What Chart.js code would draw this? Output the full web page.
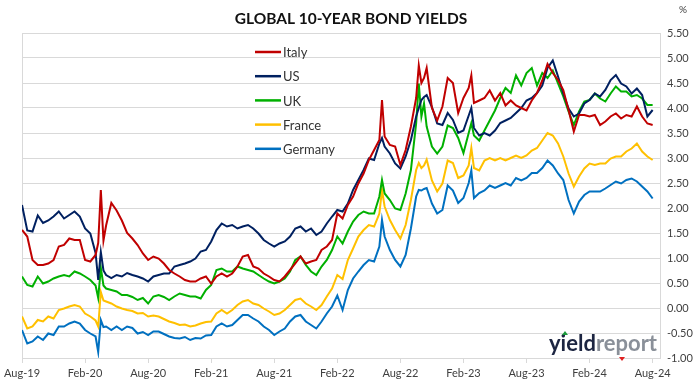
<!DOCTYPE html>
<html>
<head>
<meta charset="utf-8">
<script src="https://cdn.jsdelivr.net/npm/chart.js@4.4.1/dist/chart.umd.min.js"></script>
<style>
  html, body { margin: 0; padding: 0; background: #fff; }
  #wrap { width: 699px; height: 385px; }
</style>
</head>
<body>
<div id="wrap"><canvas id="yieldChart" width="699" height="385"></canvas></div>
<script>
// months since Aug-19, half-month steps plus a few extra points at the spikes
var months = [
  0, 0.5, 1, 1.5, 2, 2.5, 3, 3.5, 4, 4.5,
  5, 5.5, 6, 6.5, 7, 7.25, 7.5, 7.75, 8, 8.5,
  9, 9.5, 10, 10.5, 11, 11.5, 12, 12.5, 13, 13.5,
  14, 14.5, 15, 15.5, 16, 16.5, 17, 17.5, 18, 18.5,
  19, 19.5, 20, 20.5, 21, 21.5, 22, 22.5, 23, 23.5,
  24, 24.5, 25, 25.5, 26, 26.5, 27, 27.5, 28, 28.5,
  29, 29.5, 30, 30.5, 31, 31.5, 32, 32.5, 33, 33.5,
  34, 34.25, 34.5, 35, 35.5, 36, 36.5, 37, 37.5, 37.75,
  38, 38.25, 38.5, 39, 39.5, 40, 40.5, 41, 41.5, 42,
  42.5, 42.75, 43, 43.5, 44, 44.5, 45, 45.5, 46, 46.5,
  47, 47.5, 48, 48.5, 49, 49.5, 50, 50.5, 51, 51.5,
  52, 52.5, 53, 53.5, 54, 54.5, 55, 55.5, 56, 56.5,
  57, 57.5, 58, 58.5, 59, 59.5, 60
];

var italy = [
  1.56, 1.43, 0.96, 0.86, 0.86, 0.89, 0.96, 1.23, 1.26, 1.39,
  1.36, 1.36, 0.96, 0.93, 1.06, 1.30, 2.36, 1.35, 1.65, 2.10,
  1.95, 1.75, 1.50, 1.39, 1.26, 1.09, 0.96, 1.03, 0.99, 0.89,
  0.76, 0.69, 0.63, 0.56, 0.53, 0.53, 0.59, 0.63, 0.49, 0.63,
  0.69, 0.63, 0.69, 0.83, 1.03, 1.06, 0.83, 0.79, 0.69, 0.63,
  0.56, 0.53, 0.63, 0.76, 0.89, 1.03, 0.89, 0.93, 0.96, 1.16,
  1.23, 1.36, 1.89, 1.79, 2.06, 2.23, 2.49, 2.69, 2.96, 3.16,
  3.36, 4.16, 3.43, 3.26, 3.23, 2.86, 3.16, 3.63, 4.20, 4.85,
  4.50, 4.60, 4.80, 4.00, 3.75, 4.03, 4.60, 4.50, 3.90, 4.20,
  4.40, 4.65, 4.10, 4.15, 4.20, 4.35, 4.15, 4.30, 4.05, 4.15,
  4.05, 4.00, 3.95, 4.15, 4.30, 4.55, 4.88, 4.70, 4.56, 4.36,
  3.96, 3.53, 3.86, 3.86, 3.83, 3.86, 3.66, 3.73, 3.83, 3.89,
  3.79, 3.86, 3.83, 4.03, 3.83, 3.69, 3.66
];

var us = [
  2.06, 1.55, 1.53, 1.85, 1.70, 1.75, 1.83, 1.93, 1.79, 1.86,
  1.93, 1.83, 1.59, 1.49, 1.10, 0.56, 1.12, 0.75, 0.66, 0.60,
  0.66, 0.63, 0.70, 0.66, 0.63, 0.59, 0.53, 0.63, 0.66, 0.69,
  0.69, 0.83, 0.86, 0.89, 0.93, 0.99, 1.13, 1.16, 1.33, 1.56,
  1.69, 1.63, 1.66, 1.59, 1.63, 1.66, 1.59, 1.49, 1.36, 1.29,
  1.23, 1.29, 1.33, 1.43, 1.59, 1.63, 1.53, 1.59, 1.46, 1.53,
  1.69, 1.83, 1.96, 1.93, 2.09, 2.36, 2.56, 2.76, 2.99, 2.96,
  3.29, 3.40, 3.23, 3.09, 2.89, 2.79, 3.03, 3.36, 3.83, 4.00,
  4.16, 4.22, 4.26, 4.02, 3.69, 3.66, 3.90, 3.76, 3.50, 3.55,
  3.85, 4.00, 3.60, 3.45, 3.50, 3.45, 3.55, 3.70, 3.75, 3.80,
  3.90, 4.00, 4.15, 4.20, 4.30, 4.45, 4.80, 4.95, 4.63, 4.29,
  3.99, 3.83, 3.89, 4.09, 4.16, 4.29, 4.23, 4.36, 4.56, 4.66,
  4.49, 4.43, 4.29, 4.39, 4.26, 3.83, 3.96
];

var uk = [
  0.63, 0.46, 0.43, 0.63, 0.49, 0.53, 0.59, 0.63, 0.66, 0.63,
  0.73, 0.69, 0.63, 0.56, 0.45, 0.20, 0.80, 0.45, 0.39, 0.36,
  0.33, 0.26, 0.26, 0.22, 0.16, 0.20, 0.09, 0.23, 0.26, 0.22,
  0.16, 0.23, 0.29, 0.26, 0.23, 0.23, 0.19, 0.36, 0.46, 0.76,
  0.79, 0.73, 0.73, 0.83, 0.79, 0.76, 0.73, 0.66, 0.59, 0.53,
  0.49, 0.53, 0.59, 0.73, 0.96, 1.03, 0.86, 0.73, 0.66, 0.83,
  0.96, 1.16, 1.43, 1.29, 1.53, 1.73, 1.86, 1.93, 1.89, 1.89,
  2.23, 2.56, 2.29, 2.16, 1.99, 1.96, 2.29, 2.76, 3.69, 4.49,
  3.83, 4.09, 3.63, 3.23, 3.09, 3.23, 3.65, 3.60, 3.40, 3.10,
  3.50, 3.70, 3.45, 3.35, 3.55, 3.75, 3.95, 4.20, 4.40, 4.30,
  4.65, 4.45, 4.70, 4.80, 4.45, 4.70, 4.60, 4.75, 4.49, 4.23,
  3.93, 3.66, 3.93, 4.13, 4.16, 4.29, 4.19, 4.13, 4.29, 4.43,
  4.33, 4.33, 4.23, 4.26, 4.19, 4.06, 4.06
];

var france = [
  -0.17, -0.41, -0.37, -0.24, -0.27, -0.17, -0.21, -0.04, -0.01, 0.03,
  0.06, 0.03, -0.11, -0.17, -0.25, -0.37, 0.32, 0.15, 0.13, 0.09,
  0.03, -0.01, -0.04, -0.06, -0.11, -0.10, -0.17, -0.15, -0.17, -0.22,
  -0.27, -0.30, -0.34, -0.33, -0.37, -0.35, -0.31, -0.28, -0.27, -0.11,
  -0.04, -0.11, -0.04, 0.06, 0.13, 0.16, 0.09, 0.06, -0.01, -0.07,
  -0.14, -0.11, -0.04, 0.06, 0.16, 0.19, 0.09, 0.03, -0.04, 0.06,
  0.23, 0.39, 0.66, 0.58, 0.96, 1.19, 1.43, 1.56, 1.66, 1.63,
  1.89, 2.36, 2.03, 1.76, 1.56, 1.39, 1.66, 2.16, 2.76, 2.90,
  2.80, 2.85, 2.97, 2.55, 2.33, 2.49, 2.95, 2.90, 2.60, 2.65,
  2.85, 3.20, 2.80, 2.75, 2.95, 3.00, 2.95, 3.00, 2.95, 3.00,
  3.05, 3.00, 3.05, 3.15, 3.20, 3.35, 3.50, 3.45, 3.29, 3.03,
  2.69, 2.43, 2.63, 2.79, 2.89, 2.86, 2.89, 2.89, 2.99, 3.03,
  3.03, 3.13, 3.19, 3.29, 3.13, 3.03, 2.96
];

var germany = [
  -0.44, -0.71, -0.67, -0.57, -0.64, -0.51, -0.54, -0.37, -0.37, -0.31,
  -0.27, -0.31, -0.44, -0.51, -0.57, -0.88, -0.24, -0.38, -0.37, -0.44,
  -0.37, -0.44, -0.37, -0.40, -0.51, -0.48, -0.54, -0.47, -0.47, -0.52,
  -0.57, -0.60, -0.61, -0.58, -0.64, -0.60, -0.61, -0.55, -0.54, -0.37,
  -0.31, -0.37, -0.34, -0.24, -0.14, -0.14, -0.21, -0.27, -0.37, -0.44,
  -0.54, -0.47, -0.41, -0.27, -0.17, -0.14, -0.27, -0.34, -0.41, -0.27,
  -0.11, 0.03, 0.25, -0.04, 0.36, 0.59, 0.73, 0.86, 0.96, 0.93,
  1.23, 1.76, 1.43, 1.16, 0.96, 0.83, 1.06, 1.59, 2.23, 2.36,
  2.35, 2.38, 2.40, 2.09, 1.89, 1.96, 2.45, 2.35, 2.10, 2.20,
  2.50, 2.75, 2.20, 2.30, 2.35, 2.45, 2.40, 2.45, 2.50, 2.45,
  2.60, 2.55, 2.60, 2.70, 2.70, 2.80, 2.95, 2.85, 2.69, 2.56,
  2.16, 1.89, 2.13, 2.26, 2.33, 2.33, 2.33, 2.39, 2.46, 2.53,
  2.49, 2.56, 2.59, 2.53, 2.43, 2.33, 2.19
];

var xLabels = ["Aug-19", "Feb-20", "Aug-20", "Feb-21", "Aug-21", "Feb-22",
               "Aug-22", "Feb-23", "Aug-23", "Feb-24", "Aug-24"];
var seriesNames = ["Italy", "US", "UK", "France", "Germany"];
var seriesColors = ["#C00000", "#002060", "#00B000", "#FFC000", "#0070C0"];
var seriesValues = [italy, us, uk, france, germany];

function toPoints(values) {
  return values.map(function (v, i) { return { x: months[i], y: v }; });
}

var datasets = seriesNames.map(function (name, i) {
  return {
    label: name,
    data: toPoints(seriesValues[i]),
    borderColor: seriesColors[i],
    backgroundColor: seriesColors[i],
    borderWidth: 2,
    pointRadius: 0,
    tension: 0,
    fill: false
  };
});

// title, unit, frame, legend box and watermark
var decorPlugin = {
  id: 'decor',
  beforeDatasetsDraw: function (chart) {
    var ctx = chart.ctx, a = chart.chartArea;
    ctx.save();
    ctx.strokeStyle = '#d9d9d9';
    ctx.lineWidth = 1;
    ctx.beginPath();
    ctx.moveTo(a.left + 0.5, a.top);
    ctx.lineTo(a.left + 0.5, a.bottom);
    ctx.stroke();
    ctx.restore();
  },
  afterDraw: function (chart) {
    var ctx = chart.ctx;
    ctx.save();
    ctx.fillStyle = '#111';
    ctx.font = 'bold 15.5px Lato';
    ctx.textAlign = 'center';
    ctx.textBaseline = 'middle';
    ctx.fillText('GLOBAL 10-YEAR BOND YIELDS', 351, 19);

    ctx.font = '10px Lato';
    ctx.fillStyle = '#404040';
    ctx.fillText('%', 683, 10);

    // legend
    ctx.textAlign = 'left';
    ctx.font = '13px Lato';
    chart.data.datasets.forEach(function (ds, i) {
      var y = 52 + i * 24.2;
      ctx.strokeStyle = ds.borderColor;
      ctx.lineWidth = 2.5;
      ctx.beginPath();
      ctx.moveTo(255, y);
      ctx.lineTo(281, y);
      ctx.stroke();
      ctx.fillStyle = '#333';
      ctx.fillText(ds.label, 283, y + 1);
    });

    // yieldreport mark
    ctx.textBaseline = 'alphabetic';
    ctx.font = 'bold 22px Lato';
    ctx.fillStyle = '#1c2541';
    ctx.fillText('yield', 549, 351);
    var w = ctx.measureText('yield').width;
    ctx.fillStyle = '#8a9099';
    ctx.fillText('report', 549 + w, 351);
    ctx.fillStyle = '#1a9a3a';
    ctx.beginPath();
    ctx.moveTo(565, 331); ctx.lineTo(568, 335); ctx.lineTo(562, 335); ctx.closePath();
    ctx.fill();
    ctx.fillStyle = '#e02020';
    ctx.beginPath();
    ctx.moveTo(619, 357); ctx.lineTo(625, 357); ctx.lineTo(622, 361); ctx.closePath();
    ctx.fill();
    ctx.restore();
  }
};

var tickFont = { family: 'Lato', size: 11 };

var yieldChart = new Chart(document.getElementById('yieldChart'), {
  type: 'line',
  data: { datasets: datasets },
  options: {
    responsive: false,
    animation: false,
    devicePixelRatio: 1,
    layout: { padding: { top: 33, left: 21, right: 0, bottom: 0 } },
    plugins: {
      legend: { display: false },
      title: { display: false },
      tooltip: { enabled: false }
    },
    scales: {
      x: {
        type: 'linear',
        min: 0,
        max: 60.7,
        grid: { drawOnChartArea: false, drawTicks: true, tickLength: 5, color: '#d9d9d9' },
        border: { display: false },
        afterBuildTicks: function (scale) {
          scale.ticks = xLabels.map(function (l, i) { return { value: i * 6 }; });
        },
        afterFit: function (scale) { scale.height = 27; },
        ticks: {
          autoSkip: false,
          maxRotation: 0,
          padding: 4,
          color: '#404040',
          font: tickFont,
          callback: function (v) { return xLabels[Math.round(v / 6)]; }
        }
      },
      y: {
        position: 'right',
        min: -1,
        max: 5.5,
        grid: { color: '#d9d9d9', drawTicks: false },
        border: { display: true, color: '#d9d9d9' },
        afterFit: function (scale) { scale.width = 39; },
        ticks: {
          stepSize: 0.5,
          padding: 7,
          color: '#404040',
          font: tickFont,
          callback: function (v) { return v.toFixed(2); }
        }
      }
    }
  },
  plugins: [decorPlugin]
});
</script>
</body>
</html>
